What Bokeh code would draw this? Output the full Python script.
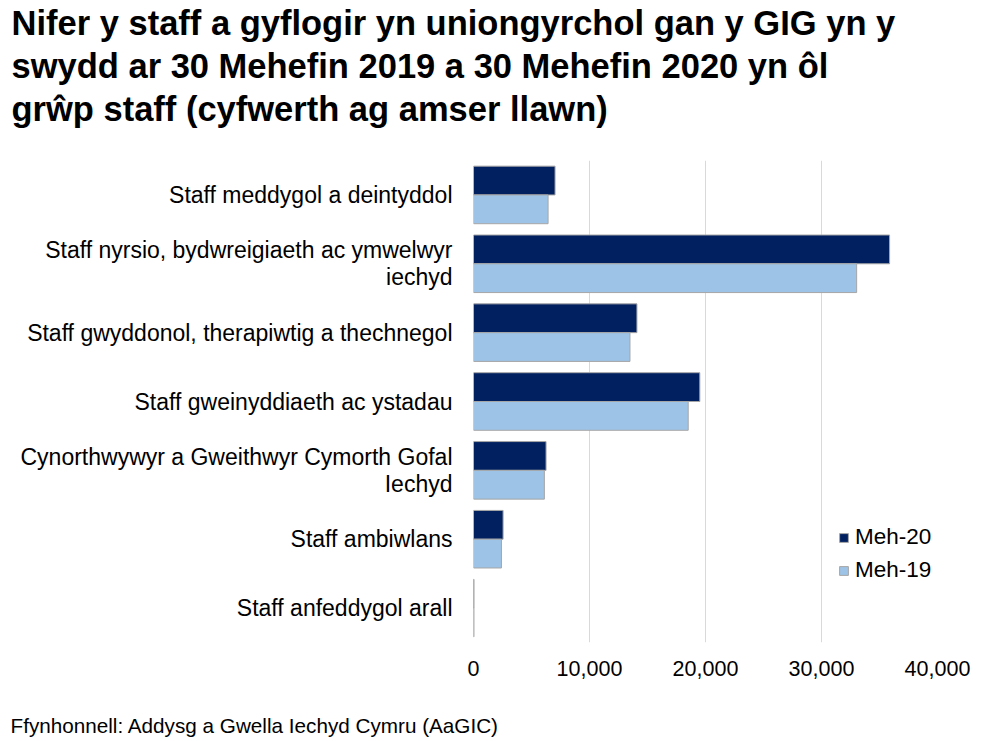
from bokeh.plotting import figure
from bokeh.models import (FactorRange, Range1d, Legend, LegendItem, Title,
                          NumeralTickFormatter, FixedTicker, ColumnDataSource)
from bokeh.transform import dodge
from bokeh.embed import file_html
from bokeh.resources import INLINE

# ---- data ----
categories = [
    "Staff meddygol a deintyddol",
    "Staff nyrsio, bydwreigiaeth ac ymwelwyr\niechyd",
    "Staff gwyddonol, therapiwtig a thechnegol",
    "Staff gweinyddiaeth ac ystadau",
    "Cynorthwywyr a Gweithwyr Cymorth Gofal\nIechyd",
    "Staff ambiwlans",
    "Staff anfeddygol arall",
]
meh20 = [7030, 35870, 14090, 19510, 6255, 2550, 45]
meh19 = [6430, 33030, 13490, 18510, 6110, 2410, 40]
series_names = ["Meh-20", "Meh-19"]
series_colors = ["#002060", "#9DC3E6"]
x_ticks = [0, 10000, 20000, 30000, 40000]
title_lines = [
    "Nifer y staff a gyflogir yn uniongyrchol gan y GIG yn y",
    "swydd ar 30 Mehefin 2019 a 30 Mehefin 2020 yn ôl",
    "grŵp staff (cyfwerth ag amser llawn)",
]
source_note = "Ffynhonnell: Addysg a Gwella Iechyd Cymru (AaGIC)"

FONT = "Liberation Sans"
W, H = 980, 740
FL, FR, FT, FB = 473, 937, 157, 642  # plot frame edges in page pixels

src = ColumnDataSource(dict(cat=categories, meh20=meh20, meh19=meh19))

p = figure(
    width=W, height=H,
    y_range=FactorRange(factors=list(reversed(categories)), range_padding=0),
    x_range=Range1d(0, 40000),
    output_backend="svg", toolbar_location=None,
    min_border_left=FL, min_border_right=W - FR, min_border_top=FT, min_border_bottom=H - FB,
)
p.outline_line_color = None
p.background_fill_color = "white"
p.border_fill_color = "white"

bh = 0.418
r20 = p.hbar(y=dodge("cat", bh / 2, range=p.y_range), left=0, right="meh20", height=bh,
             source=src, fill_color=series_colors[0], line_color="#A6A6A6", line_width=1)
r19 = p.hbar(y=dodge("cat", -bh / 2, range=p.y_range), left=0, right="meh19", height=bh,
             source=src, fill_color=series_colors[1], line_color="#A6A6A6", line_width=1)

p.ygrid.grid_line_color = None
p.xgrid.grid_line_color = "#D9D9D9"
p.xgrid.grid_line_width = 1
p.xaxis.ticker = FixedTicker(ticks=x_ticks)
p.xaxis.formatter = NumeralTickFormatter(format="0,0")
p.xaxis.axis_line_color = None
p.xaxis.major_tick_line_color = None
p.xaxis.minor_tick_line_color = None
p.xaxis.major_label_text_font = FONT
p.xaxis.major_label_text_font_size = "21.5px"
p.xaxis.major_label_text_color = "black"
p.xaxis.major_label_standoff = 12

p.yaxis.axis_line_color = None
p.yaxis.major_tick_line_color = None
p.yaxis.minor_tick_line_color = None
p.yaxis.major_label_text_font = FONT
p.yaxis.major_label_text_font_size = "23px"
p.yaxis.major_label_text_line_height = 1.05
p.yaxis.major_label_text_color = "black"
p.yaxis.major_label_standoff = 15

legend = Legend(
    items=[LegendItem(label=series_names[0], renderers=[r20]),
           LegendItem(label=series_names[1], renderers=[r19])],
    location=(365, 59), orientation="vertical",
    glyph_width=11, glyph_height=11, label_standoff=6, spacing=7,
    padding=0, margin=0, border_line_color=None, background_fill_alpha=0,
    label_text_font=FONT, label_text_font_size="22.5px", label_text_color="black",
)
p.add_layout(legend)


def gap(font_px):
    # a blank (non-breaking space) title used only to reserve vertical room between panels
    return Title(text="\u00a0", standoff=0, text_font=FONT, text_font_size=f"{font_px}px",
                 text_color="white")


# above: gap next to the frame, then the three-line title
p.add_layout(gap(27), "above")
p.add_layout(Title(text="\n".join(title_lines), align="left", offset=11 - FL, standoff=2,
                   text_font=FONT, text_font_size="34.5px", text_font_style="bold",
                   text_line_height=1.125, text_color="black"), "above")
# below: x axis, gap, source note
p.add_layout(gap(26), "below")
p.add_layout(Title(text=source_note, align="left", offset=10 - FL, standoff=2,
                   text_font=FONT, text_font_size="20.7px", text_font_style="normal",
                   text_color="black"), "below")

open("out.html", "w").write(file_html(p, INLINE))
